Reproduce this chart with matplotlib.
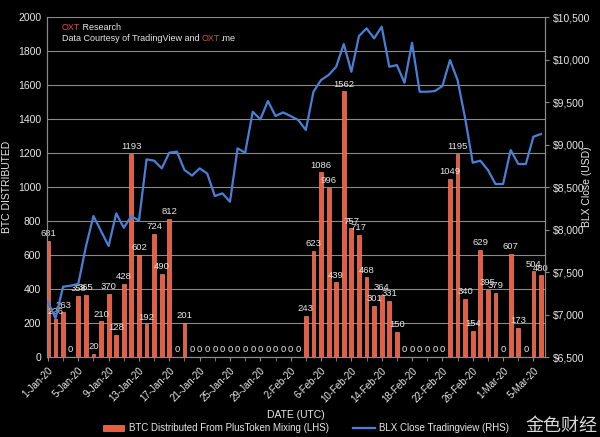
import numpy as np
import pandas as pd
import matplotlib
matplotlib.use("Agg")
import matplotlib.pyplot as plt
import matplotlib.ticker as mticker
from matplotlib.patches import Patch
from matplotlib.lines import Line2D

plt.rcParams['font.family'] = ['Liberation Sans Narrow', 'Liberation Sans', 'Noto Sans CJK SC', 'DejaVu Sans']

# daily dates, 1-Jan-20 .. 6-Mar-20
dates = pd.date_range("2020-01-01", "2020-03-06", freq="D")

# BTC distributed from PlusToken mixing (LHS)
btc = [681, 226, 263, 0, 358, 365, 20, 210, 370, 128, 428, 1193, 602, 192, 724, 490,
       812, 0, 201, 0, 0, 0, 0, 0, 0, 0, 0, 0, 0, 0, 0, 0,
       0, 0, 243, 623, 1086, 996, 439, 1562, 757, 717, 468, 301, 364, 331, 150, 0,
       0, 0, 0, 0, 0, 1049, 1195, 340, 154, 629, 395, 379, 0, 607, 173, 0,
       504, 480]

# BLX close (RHS)
blx = [7151, 6955, 7327, 7340, 7360, 7798, 8159, 7982, 7806, 8190, 8021, 8159, 8104, 8826, 8810, 8720,
       8904, 8916, 8700, 8635, 8720, 8659, 8394, 8426, 8327, 8955, 8904, 9386, 9296, 9512, 9335, 9378,
       9335, 9288, 9171, 9621, 9759, 9818, 9915, 10182, 9856, 10276, 10367, 10249, 10386, 9915, 9935, 9727,
       10197, 9621, 9621, 9629, 9688, 9994, 9759, 9308, 8786, 8810, 8700, 8535, 8535, 8935, 8771, 8771,
       9092, 9124]

bar_color = "#ee5a3d"
line_color = "#4a7fd6"
txt = "#e8e8e8"
grid = "#8a8a8a"

x = np.arange(len(dates))
tick_idx = x[::4]
tick_labels = [f"{d.day}-{d.strftime('%b')}-20" for d in dates[::4]]

fig = plt.figure(figsize=(6, 4.37), dpi=100, facecolor="black")
ax = fig.add_axes([0.078, 0.183, 0.83, 0.778], facecolor="black")
ax2 = ax.twinx()

ax.set_axisbelow(True)
ax.yaxis.grid(True, color=grid, lw=0.8)
ax.bar(x, btc, width=0.5, color=bar_color, edgecolor="#f7a08a", linewidth=0.4, zorder=2)
for i, v in enumerate(btc):
    ax.annotate(str(v), (i, v), xytext=(0, 2), textcoords="offset points",
                ha="center", va="bottom", color=txt, fontsize=6.8, zorder=4)

ax2.plot(x, blx, color=line_color, lw=1.6, zorder=3)

ax.set_xlim(-0.15, 65.5)
ax.set_ylim(0, 2000)
ax2.set_ylim(6500, 10500)
ax.yaxis.set_major_locator(mticker.MultipleLocator(200))
ax2.yaxis.set_major_locator(mticker.MultipleLocator(500))
ax2.yaxis.set_major_formatter(mticker.FuncFormatter(lambda v, p: f"${v:,.0f}"))

ax.set_xticks(tick_idx)
ax.set_xticklabels(tick_labels, rotation=45, ha="right", rotation_mode="anchor")
ax.set_xticks(x[::2], minor=True)

for a in (ax, ax2):
    for s in a.spines.values():
        s.set_color(grid)
        s.set_linewidth(0.8)
    a.tick_params(colors=txt, labelsize=7.5)
ax.spines['top'].set_visible(False)
ax2.spines['top'].set_visible(False)
ax.tick_params(axis="y", length=0, pad=4)
ax.tick_params(axis="x", which="both", length=3, color=grid, pad=3, labelsize=7)
ax2.tick_params(axis="y", length=3, color=grid, pad=3)

ax.set_ylabel("BTC DISTRIBUTED", color=txt, fontsize=7.5)
ax.yaxis.set_label_coords(-0.07, 0.5)
ax2.set_ylabel("BLX Close (USD)", color=txt, fontsize=7.5)
ax2.yaxis.set_label_coords(1.075, 0.5)
ax.set_xlabel("DATE (UTC)", color=txt, fontsize=7.5, labelpad=4)

# source note
t1 = ax.text(0.03, 0.955, "OXT", transform=ax.transAxes, color="#d0504a", fontsize=6.5, va="bottom")
ax.annotate(" Research", xy=(1, 0), xycoords=t1, va="bottom", color=txt, fontsize=6.5)
t2 = ax.text(0.03, 0.925, "Data Courtesy of TradingView and ", transform=ax.transAxes,
             color=txt, fontsize=6.5, va="bottom")
t3 = ax.annotate("OXT", xy=(1, 0), xycoords=t2, va="bottom", color="#d0504a", fontsize=6.5)
ax.annotate(".me", xy=(1, 0), xycoords=t3, va="bottom", color=txt, fontsize=6.5)

handles = [Patch(facecolor=bar_color, edgecolor="#f7a08a", linewidth=0.4),
           Line2D([0], [0], color=line_color, lw=1.6)]
fig.legend(handles, ["BTC Distributed From PlusToken Mixing (LHS)", "BLX Close Tradingview (RHS)"],
           loc="lower center", bbox_to_anchor=(0.51, -0.012), ncol=2, frameon=False,
           fontsize=7, labelcolor=txt, handlelength=2.2, handletextpad=0.5, columnspacing=2.5)

fig.text(0.995, 0.005, "金色财经", color="white", fontsize=13, ha="right", va="bottom",
         family=["Noto Sans CJK SC"], alpha=0.85)

fig.savefig("out.png", dpi=100, facecolor="black")
